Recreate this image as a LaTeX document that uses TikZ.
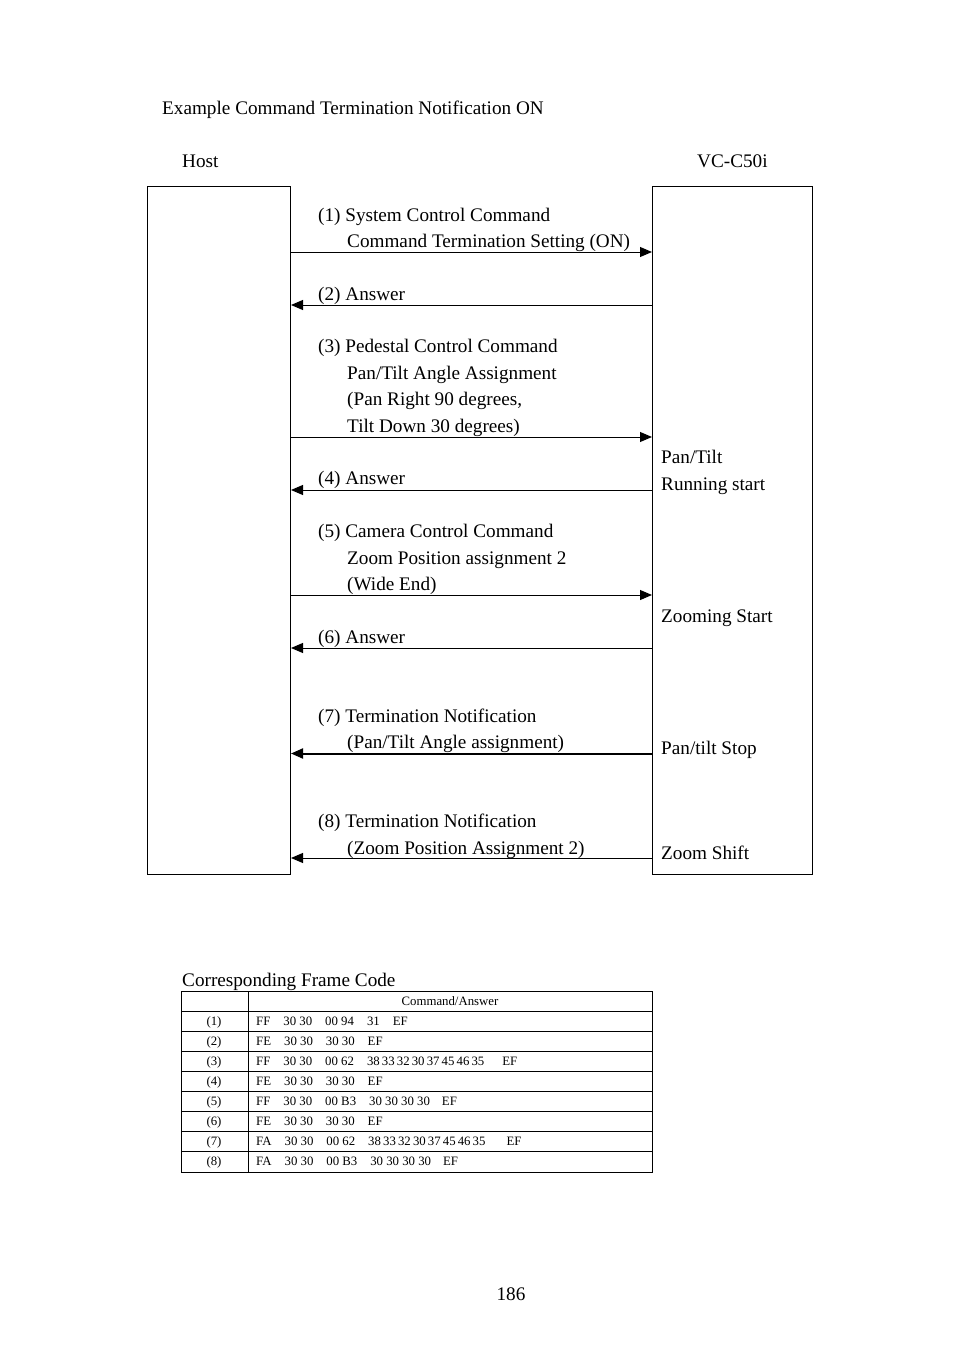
\documentclass[tikz,border=0pt]{standalone}
\usepackage{fontspec}
\setmainfont{Liberation Serif}
\usetikzlibrary{arrows.meta}
\begin{document}
\begin{tikzpicture}[x=1pt,y=-1pt,
  big/.style={font=\fontsize{19.2}{23}\selectfont, inner sep=0pt, anchor=base west},
  small/.style={font=\fontsize{12.8}{15}\selectfont, inner sep=0pt, anchor=base west},
  lifebox/.style={draw=black, line width=1pt, rectangle, inner sep=0pt, anchor=north west},
  msg/.style={line width=1pt, -{Triangle[length=12pt,width=10pt]}},
  thickmsg/.style={line width=2pt, -{Triangle[length=12pt,width=10pt]}},
  grid/.style={line width=1pt}]
\useasboundingbox (0,0) rectangle (954,1351);
\fill[white] (0,0) rectangle (954,1351);

\node[big] (title) at (162,115) {Example Command Termination Notification ON};
\node[big] (hostlbl) at (182,168) {Host};
\node[big] (devlbl) at (697,168) {VC-C50i};

\node[lifebox, minimum width=143pt, minimum height=688pt] (host) at (147,186) {};
\node[lifebox, minimum width=160pt, minimum height=688pt] (dev) at (652,186) {};

% messages
\draw[msg] (host.east |- 0,252) -- (dev.west |- 0,252);
\draw[msg] (dev.west |- 0,305) -- (host.east |- 0,305);
\draw[msg] (host.east |- 0,437) -- (dev.west |- 0,437);
\draw[msg] (dev.west |- 0,490) -- (host.east |- 0,490);
\draw[msg] (host.east |- 0,595) -- (dev.west |- 0,595);
\draw[msg] (dev.west |- 0,648) -- (host.east |- 0,648);
\draw[thickmsg] (dev.west |- 0,753.5) -- (host.east |- 0,753.5);
\draw[msg] (dev.west |- 0,858) -- (host.east |- 0,858);

\node[big] (m1a) at (318,221) {(1) System Control Command};
\node[big] (m1b) at (347,247) {Command Termination Setting (ON)};
\node[big] (m2) at (318,300) {(2) Answer};
\node[big] (m3a) at (318,352) {(3) Pedestal Control Command};
\node[big] (m3b) at (347,379) {Pan/Tilt Angle Assignment};
\node[big] (m3c) at (347,405) {(Pan Right 90 degrees,};
\node[big] (m3d) at (347,432) {Tilt Down 30 degrees)};
\node[big] (m4) at (318,484) {(4) Answer};
\node[big] (m5a) at (318,537) {(5) Camera Control Command};
\node[big] (m5b) at (347,564) {Zoom Position assignment 2};
\node[big] (m5c) at (347,590) {(Wide End)};
\node[big] (m6) at (318,643) {(6) Answer};
\node[big] (m7a) at (318,722) {(7) Termination Notification};
\node[big] (m7b) at (347,748) {(Pan/Tilt Angle assignment)};
\node[big] (m8a) at (318,827) {(8) Termination Notification};
\node[big] (m8b) at (347,854) {(Zoom Position Assignment 2)};

\node[big] (s1) at (661,463) {Pan/Tilt};
\node[big] (s2) at (661,490) {Running start};
\node[big] (s3) at (661,622) {Zooming Start};
\node[big] (s4) at (661,754) {Pan/tilt Stop};
\node[big] (s5) at (661,859) {Zoom Shift};

% table
\node[big] (tcap) at (182,986) {Corresponding Frame Code};
\draw[grid] (181,991) rectangle (652,1172);
\draw[grid] (248,991) -- (248,1172);
\foreach \yy in {1011,1031,1051,1071,1091,1111,1131,1151} \draw[grid] (181,\yy) -- (652,\yy);
\node[small, anchor=base] (th) at (450,1005) {Command/Answer};
\def\g{\hspace*{13pt}}
\def\lng{38\,33\,32\,30\,37\,45\,46\,35}
\foreach \i/\txt [count=\k from 0] in {
  1/{FF\g 30 30\g 00 94\g 31\g EF},
  2/{FE\g 30 30\g 30 30\g EF},
  3/{FF\g 30 30\g 00 62\g \lng\hspace*{18pt}EF},
  4/{FE\g 30 30\g 30 30\g EF},
  5/{FF\g 30 30\g 00 B3\g 30 30 30 30\hspace*{12pt}EF},
  6/{FE\g 30 30\g 30 30\g EF},
  7/{FA\g 30 30\g 00 62\g \lng\hspace*{21pt}EF},
  8/{FA\g 30 30\g 00 B3\g 30 30 30 30\hspace*{12pt}EF}} {
  \node[small, anchor=base] (r\i) at (214,{1025+20*\k}) {(\i)};
  \node[small] (c\i) at (256,{1025+20*\k}) {\txt};
}
\node[big, anchor=base] (page) at (511,1300) {186};
\end{tikzpicture}
\end{document}
